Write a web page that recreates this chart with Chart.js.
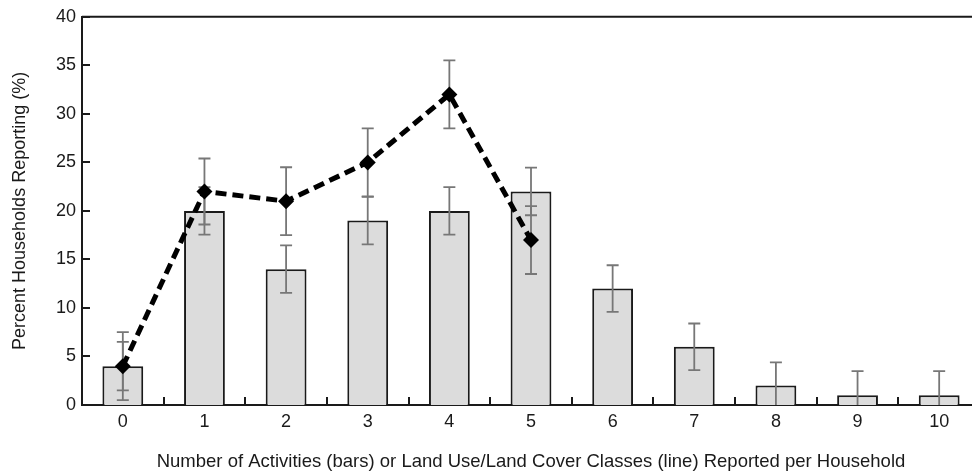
<!DOCTYPE html>
<html>
<head>
<meta charset="utf-8">
<script src="https://cdn.jsdelivr.net/npm/chart.js@4"></script>
<style>
  html, body { margin: 0; padding: 0; background: #fff; overflow: hidden; }
  #wrap { width: 972px; height: 475px; overflow: hidden; }
  canvas { display: block; }
</style>
</head>
<body>
<div id="wrap"><canvas id="chart" width="988" height="475"></canvas></div>
<script>
const categories = ['0', '1', '2', '3', '4', '5', '6', '7', '8', '9', '10'];
const activityBars = [4, 20, 14, 19, 20, 22, 12, 6, 2, 1, 1];
const activityErrors = [2.5, 2.45, 2.45, 2.45, 2.45, 2.45, 2.4, 2.4, 2.4, 2.5, 2.5];
const landUseLine = [4, 22, 21, 25, 32, 17, null, null, null, null, null];
const landUseErrors = [3.5, 3.4, 3.5, 3.5, 3.5, 3.5];
const yTicks = [0, 5, 10, 15, 20, 25, 30, 35, 40];

const axisColor = '#1a1a1a';
const textColor = '#1a1a1a';
const fontFamily = 'Liberation Sans, Arial, sans-serif';

// draws vertical error bars for one dataset
const drawErrors = (chart, index, errors) => {
  const meta = chart.getDatasetMeta(index);
  const values = chart.data.datasets[index].data;
  const yScale = chart.scales.y;
  const area = chart.chartArea;
  const ctx = chart.ctx;
  ctx.save();
  ctx.beginPath();
  ctx.rect(area.left, area.top, area.right - area.left, area.bottom - area.top);
  ctx.clip();
  ctx.strokeStyle = '#777777';
  ctx.lineWidth = 1.8;
  ctx.beginPath();
  errors.forEach((err, i) => {
    const v = values[i];
    if (v === null || v === undefined) return;
    const x = meta.data[i].x;
    const top = yScale.getPixelForValue(v + err);
    const bottom = yScale.getPixelForValue(v - err);
    ctx.moveTo(x, top);
    ctx.lineTo(x, bottom);
    ctx.moveTo(x - 6, top);
    ctx.lineTo(x + 6, top);
    ctx.moveTo(x - 6, bottom);
    ctx.lineTo(x + 6, bottom);
  });
  ctx.stroke();
  ctx.restore();
};

const errorBars = {
  id: 'errorBars',
  afterDatasetDraw(chart, args) {
    if (args.index === 0) drawErrors(chart, 0, activityErrors);
  },
  beforeDatasetDraw(chart, args) {
    if (args.index === 1) drawErrors(chart, 1, landUseErrors);
  }
};

// inward tick marks and the top frame line
const frame = {
  id: 'frame',
  afterDraw(chart) {
    const { ctx, chartArea } = chart;
    const x = chart.scales.x;
    const y = chart.scales.y;
    ctx.save();
    ctx.strokeStyle = axisColor;
    ctx.lineWidth = 2;
    ctx.beginPath();
    ctx.moveTo(chartArea.left, chartArea.top);
    ctx.lineTo(chartArea.right, chartArea.top);
    ctx.stroke();

    ctx.beginPath();
    yTicks.forEach(t => {
      const py = Math.round(y.getPixelForValue(t));
      ctx.moveTo(chartArea.left, py);
      ctx.lineTo(chartArea.left + 8, py);
    });
    for (let i = 0; i < categories.length - 1; i++) {
      const px = Math.round(x.getPixelForValue(i + 0.5));
      ctx.moveTo(px, chartArea.bottom);
      ctx.lineTo(px, chartArea.bottom - 8);
    }
    ctx.stroke();
    ctx.restore();
  }
};

new Chart(document.getElementById('chart'), {
  type: 'bar',
  data: {
    labels: categories,
    datasets: [
      {
        type: 'bar',
        data: activityBars,
        backgroundColor: '#dcdcdc',
        borderColor: '#1a1a1a',
        borderWidth: 2,
        barPercentage: 0.5,
        categoryPercentage: 1,
        order: 1
      },
      {
        type: 'line',
        data: landUseLine,
        borderColor: '#000',
        borderWidth: 5,
        borderDash: [11, 6],
        pointStyle: 'rectRot',
        pointRadius: 8,
        pointBackgroundColor: '#000',
        pointBorderColor: '#000',
        pointBorderWidth: 0,
        tension: 0,
        spanGaps: false,
        order: 0
      }
    ]
  },
  options: {
    responsive: false,
    animation: false,
    layout: { padding: { top: 16, right: 0, left: 0, bottom: 0 } },
    plugins: {
      legend: { display: false },
      tooltip: { enabled: false }
    },
    scales: {
      x: {
        offset: true,
        grid: { display: false, drawTicks: false, tickLength: 0 },
        border: { display: true, color: axisColor, width: 2 },
        ticks: {
          color: textColor,
          padding: 6,
          font: { family: fontFamily, size: 18 }
        },
        title: {
          display: true,
          text: 'Number of Activities (bars) or Land Use/Land Cover Classes (line) Reported per Household',
          color: textColor,
          font: { family: fontFamily, size: 18.5 },
          padding: { top: 4, bottom: 2 }
        },
        afterFit(scale) { scale.height = 70; }
      },
      y: {
        min: 0,
        max: 40,
        afterBuildTicks(scale) { scale.ticks = yTicks.map(v => ({ value: v })); },
        grid: { display: false, drawTicks: false, tickLength: 0 },
        border: { display: true, color: axisColor, width: 2 },
        ticks: {
          color: textColor,
          padding: 6,
          font: { family: fontFamily, size: 18 }
        },
        title: {
          display: true,
          text: 'Percent Households Reporting (%)',
          color: textColor,
          font: { family: fontFamily, size: 18 },
          padding: { top: 9, bottom: 2 }
        },
        afterFit(scale) { scale.width = 82; }
      }
    }
  },
  plugins: [errorBars, frame]
});
</script>
</body>
</html>
